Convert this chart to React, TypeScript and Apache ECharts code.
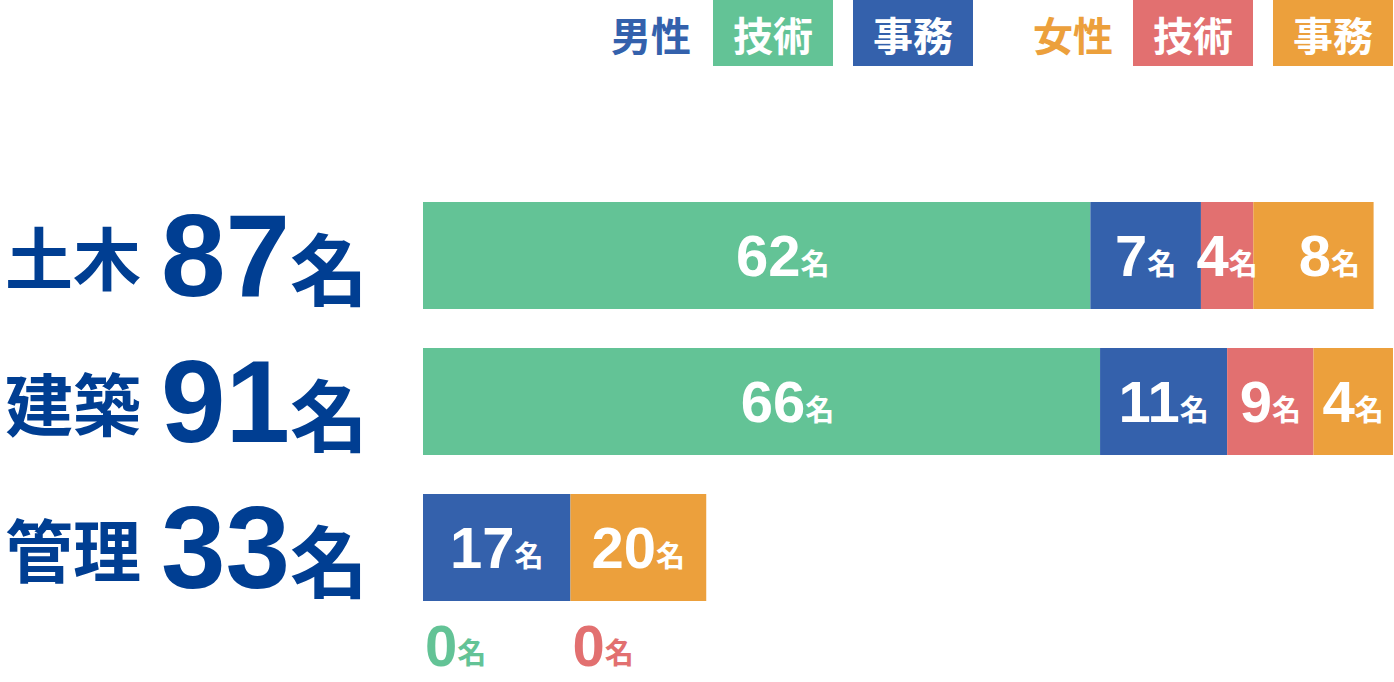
import React, { useEffect, useRef } from "react";
import * as echarts from "echarts";

// 部署ごとの人数
const categories = ["土木", "建築", "管理"];
const totals = [87, 91, 33];

// 人数（ラベル）
const maleTech = [62, 66, 0];
const maleOffice = [7, 11, 17];
const femaleTech = [4, 9, 0];
const femaleOffice = [8, 4, 20];

// 図で描かれている帯の長さ（0〜100 の目盛で読んだ値）
const maleTechLen = [68.8, 69.8, 0];
const maleOfficeLen = [11.4, 13.1, 15.2];
const femaleTechLen = [5.4, 8.9, 0];
const femaleOfficeLen = [12.4, 8.2, 14.0];

const groups = ["男性", "女性"];
const kinds = ["技術", "事務"];

const GREEN = "#63C396";
const BLUE = "#3461AC";
const RED = "#E27070";
const ORANGE = "#ECA03C";
const NAVY = "#003E92";

const JP = "'Noto Sans CJK JP', sans-serif";
const NUM = "'Liberation Sans', Arial, sans-serif";

const App = () => {
    const chartRef = useRef<HTMLDivElement>(null);

    useEffect(() => {
        if (!chartRef.current) return;
        const chart = echarts.init(chartRef.current, null, { renderer: "svg" });

        const rows = [
            { name: `${groups[0]}${kinds[0]}`, counts: maleTech, lens: maleTechLen, color: GREEN, shift: [26, 0] },
            { name: `${groups[0]}${kinds[1]}`, counts: maleOffice, lens: maleOfficeLen, color: BLUE, shift: [0, 0] },
            { name: `${groups[1]}${kinds[0]}`, counts: femaleTech, lens: femaleTechLen, color: RED, shift: [0, 0] },
            { name: `${groups[1]}${kinds[1]}`, counts: femaleOffice, lens: femaleOfficeLen, color: ORANGE, shift: [0, 0] },
        ];

        const labelRich = (color: string) => ({
            n: { fontFamily: NUM, fontWeight: "bold", fontSize: 58, color, verticalAlign: "bottom", lineHeight: 58 },
            u: { fontFamily: JP, fontWeight: "bold", fontSize: 29, color, verticalAlign: "bottom", lineHeight: 40, padding: [0, 0, 8, 0] },
        });

        const series = rows.map((r) => ({
            name: r.name,
            type: "bar",
            stack: "total",
            barWidth: 107,
            itemStyle: { color: r.color },
            label: {
                show: true,
                position: "inside",
                offset: r.shift,
                formatter: (p: any) => `{n|${r.counts[p.dataIndex]}}{u|名}`,
                rich: labelRich("#fff"),
            },
            data: r.lens.map((v, i) => {
                const item: any = { value: v };
                if (r.counts[i] === 0) {
                    item.label = {
                        position: [2, 122],
                        offset: [0, 0],
                        align: "left",
                        verticalAlign: "top",
                        rich: labelRich(r.color),
                    };
                }
                if (r.name === "女性事務" && i === 0) item.label = { offset: [16, 0] };
                return item;
            }),
        }));

        // 凡例
        const legend: any[] = [];
        const legendX = [611, 1033];
        const boxX = [[713, 853], [1133, 1273]];
        const boxColor = [[GREEN, BLUE], [RED, ORANGE]];
        const groupColor = [BLUE, ORANGE];
        groups.forEach((g, gi) => {
            legend.push({
                type: "text",
                x: legendX[gi],
                y: 34,
                style: { text: g, fill: groupColor[gi], fontFamily: JP, fontWeight: "bold", fontSize: 40, align: "left", verticalAlign: "middle" },
            });
            kinds.forEach((k, ki) => {
                legend.push({
                    type: "rect",
                    shape: { x: boxX[gi][ki], y: 0, width: 120, height: 66 },
                    style: { fill: boxColor[gi][ki] },
                });
                legend.push({
                    type: "text",
                    x: boxX[gi][ki] + 60,
                    y: 34,
                    style: { text: k, fill: "#fff", fontFamily: JP, fontWeight: "bold", fontSize: 40, align: "center", verticalAlign: "middle" },
                });
            });
        });

        const options = {
            animation: false,
            grid: { left: 423, right: 1, top: 182.5, height: 438, outerBoundsMode: "none", containLabel: false },
            xAxis: { type: "value", min: 0, max: 100, show: false },
            yAxis: {
                type: "category",
                data: categories,
                inverse: true,
                axisLine: { show: false },
                axisTick: { show: false },
                splitLine: { show: false },
                axisLabel: {
                    align: "left",
                    margin: 418,
                    formatter: (value: string, idx: number) => `{c|${value}}{n|${totals[idx]}}{u|名}`,
                    rich: {
                        c: { fontFamily: JP, fontWeight: "bold", fontSize: 68, color: NAVY, padding: [0, 20, 0, 0], verticalAlign: "middle" },
                        n: { fontFamily: NUM, fontWeight: "bold", fontSize: 116, color: NAVY, verticalAlign: "middle" },
                        u: { fontFamily: JP, fontWeight: "bold", fontSize: 78, color: NAVY, verticalAlign: "middle", padding: [20, 0, 0, 0] },
                    },
                },
            },
            graphic: legend,
            series,
        };

        chart.setOption(options as any);
        return () => chart.dispose();
    }, []);

    return <div ref={chartRef} style={{ position: "absolute", left: 0, top: 0, width: "1394px", height: "682px" }} />;
};

export default App;
